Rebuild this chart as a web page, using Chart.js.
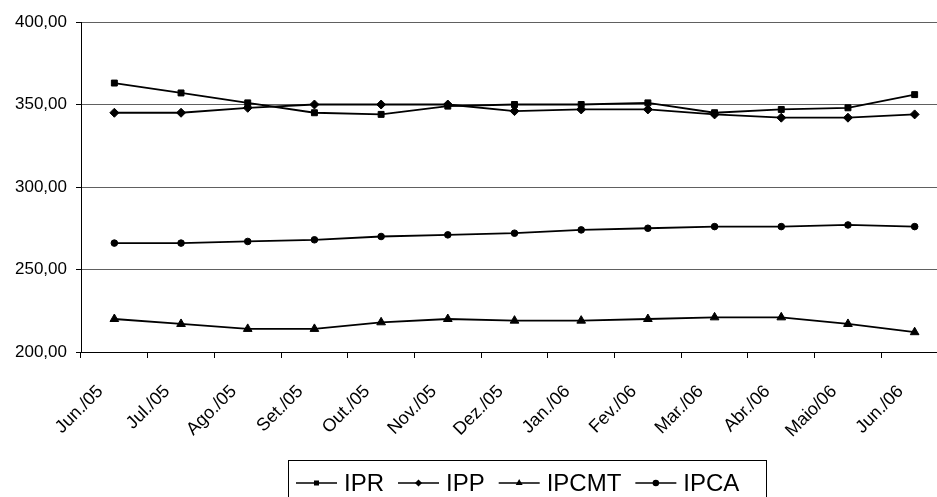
<!DOCTYPE html>
<html>
<head>
<meta charset="utf-8">
<script src="https://cdn.jsdelivr.net/npm/chart.js@4/dist/chart.umd.min.js"></script>
<style>
html,body{margin:0;padding:0;background:#fff;overflow:hidden;}
#wrap{position:absolute;left:0;top:0;width:960px;height:497px;}
</style>
</head>
<body>
<div id="wrap"><canvas id="c" width="960" height="497"></canvas></div>
<script>
const categories = ['Jun./05','Jul./05','Ago./05','Set./05','Out./05','Nov./05','Dez./05','Jan./06','Fev./06','Mar./06','Abr./06','Maio/06','Jun./06'];
const ipr   = [363, 357, 351, 345, 344, 349, 350, 350, 351, 345, 347, 348, 356];
const ipp   = [345, 345, 348, 350, 350, 350, 346, 347, 347, 344, 342, 342, 344];
const ipcmt = [220, 217, 214, 214, 218, 220, 219, 219, 220, 221, 221, 217, 212];
const ipca  = [266, 266, 267, 268, 270, 271, 272, 274, 275, 276, 276, 277, 276];
const yTicks = [200, 250, 300, 350, 400];

const FONT = "'Liberation Sans', Arial, sans-serif";

function ds(label, data, style, r) {
  return {label, data, borderColor:'#000', backgroundColor:'#000', borderWidth:1.8,
    pointStyle: style, pointRadius: r, pointHoverRadius: r, pointBorderWidth:1,
    pointBackgroundColor:'#000', pointBorderColor:'#000', tension:0, fill:false};
}

const legendPlugin = {
  id:'boxLegend',
  afterDraw(chart){
    const ctx = chart.ctx;
    ctx.save();
    ctx.strokeStyle = '#000';
    ctx.lineWidth = 1;
    ctx.strokeRect(288.5, 460.5, 478, 60);
    ctx.font = '24px ' + FONT;
    ctx.textBaseline = 'alphabetic';
    ctx.fillStyle = '#000';
    let x = 296;
    const yl = 483;
    chart.data.datasets.forEach(d => {
      ctx.beginPath();
      ctx.lineWidth = 1.5;
      ctx.moveTo(x, yl); ctx.lineTo(x + 41, yl); ctx.stroke();
      Chart.helpers.drawPoint(ctx, {pointStyle:d.pointStyle, radius:2.5, rotation:0, borderWidth:1}, x + 20.5, yl);
      ctx.fill();
      ctx.fillText(d.label, x + 48, 491);
      x += 48 + ctx.measureText(d.label).width + 14;
    });
    ctx.restore();
  }
};

new Chart(document.getElementById('c'), {
  type:'line',
  data:{
    labels: categories,
    datasets:[
      ds('IPR', ipr, 'rect', 4.2),
      ds('IPP', ipp, 'rectRot', 4.5),
      ds('IPCMT', ipcmt, 'triangle', 5),
      ds('IPCA', ipca, 'circle', 3.3)
    ]
  },
  options:{
    responsive:false,
    animation:false,
    devicePixelRatio:1,
    layout:{padding:{top:22, right:12, left:0, bottom:0}},
    plugins:{legend:{display:false}, tooltip:{enabled:false}},
    scales:{
      x:{
        offset:true,
        grid:{display:true, drawOnChartArea:false, drawTicks:true, tickLength:6, color:'#000', offset:true},
        border:{display:true, color:'#000', width:1},
        ticks:{color:'#000', font:{family:FONT, size:18}, minRotation:45, maxRotation:45, autoSkip:false, padding:23, labelOffset:-14},
        afterFit(s){ s.height = 145; }
      },
      y:{
        min:200, max:400,
        afterBuildTicks(s){ s.ticks = yTicks.map(v => ({value:v})); },
        grid:{color:'#606060', lineWidth:1, tickLength:5, tickColor:'#000'},
        border:{display:true, color:'#000', width:1},
        ticks:{color:'#000', font:{family:FONT, size:17}, padding:9,
          callback:(v)=> v.toFixed(2).replace('.', ',')},
        afterFit(s){ s.width = 81; }
      }
    }
  },
  plugins:[legendPlugin]
});
</script>
</body>
</html>
